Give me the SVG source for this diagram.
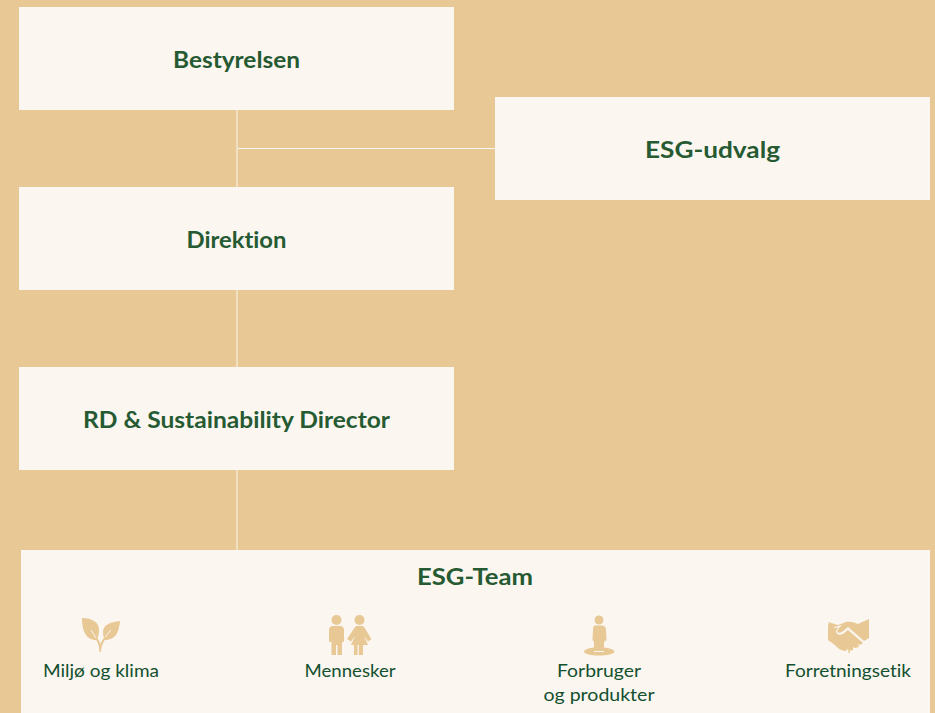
<svg xmlns="http://www.w3.org/2000/svg" width="935" height="713" viewBox="0 0 935 713">
<style>
.box{fill:#fbf6ef}
.h{font-family:"Lato","Liberation Sans",sans-serif;font-weight:700;font-size:23px;fill:#255a32;text-anchor:middle;font-variant-ligatures:none}
.s{font-family:"Lato","Liberation Sans",sans-serif;font-weight:400;font-size:17px;fill:#12502f;text-anchor:middle;font-variant-ligatures:none}
.ic{fill:#e8c894}
.vein{fill:none;stroke:#fbf6ef;stroke-width:1}
.c{stroke:#fbf6ef;stroke-width:1;fill:none}
</style>
<rect width="935" height="713" fill="#e8c894"/>
<g id="connectors">
<path class="c" d="M237 110V187M237.500 148.500H495M237 290V367M237 470V550"/>
</g>
<g id="bestyrelsen"><rect class="box" x="19" y="7" width="435" height="103"/><text class="h" x="236.500" y="68" textLength="127" lengthAdjust="spacingAndGlyphs">Bestyrelsen</text></g>
<g id="esg-udvalg"><rect class="box" x="495" y="97" width="435" height="103"/><text class="h" x="712.500" y="158" textLength="135" lengthAdjust="spacingAndGlyphs">ESG-udvalg</text></g>
<g id="direktion"><rect class="box" x="19" y="187" width="435" height="103"/><text class="h" x="236.500" y="248" textLength="100" lengthAdjust="spacingAndGlyphs">Direktion</text></g>
<g id="rd-director"><rect class="box" x="19" y="367" width="435" height="103"/><text class="h" x="236.500" y="428" textLength="307" lengthAdjust="spacingAndGlyphs">RD &amp; Sustainability Director</text></g>
<g id="esg-team">
<rect class="box" x="21" y="550" width="909" height="163"/>
<text class="h" x="475" y="585" textLength="116" lengthAdjust="spacingAndGlyphs">ESG-Team</text>
<g id="miljo">
<path class="ic" d="M82 618C90 618 99 621 99 630C99 635 98 638 96 640C88 640 82 634 82 618Z"/>
<path class="ic" d="M120 621C112 622 103 624 103 632C103 636 104 638 105 640C114 640 119 634 120 621Z"/>
<path class="ic" d="M99.500 652C99.500 645 97 640 92 634L93 633C97 637 100 641 100.500 645C101 641 104 637 110 632L111 633C105 638 101 645 101 652Z"/>
<path class="vein" d="M91 630L96 638M111 630L105 637"/>
<text class="s" x="101" y="677" textLength="116" lengthAdjust="spacingAndGlyphs">Miljø og klima</text>
</g>
<g id="mennesker">
<circle class="ic" cx="336.500" cy="620" r="5"/>
<path class="ic" d="M333 626H340C343 626 344 628 344 630V641C344 642 343 642 342 642V655H337.500V645H336V655H331.500V642C330 642 329 642 329 641V630C329 628 330 626 333 626Z"/>
<circle class="ic" cx="359.500" cy="620" r="5"/>
<path class="ic" d="M356 626H363C365 628 369 635 371.500 639L368 641.500L364 636L368 645H363V655H358.800V645H357.500V655H354V645H351L355 636L351 641.500L347 639C350 635 354 628 356 626Z"/>
<text class="s" x="350" y="677" textLength="91" lengthAdjust="spacingAndGlyphs">Mennesker</text>
</g>
<g id="forbruger">
<circle class="ic" cx="599" cy="620" r="4.500"/>
<path class="ic" d="M595 625.500H603C605 626 606 628 606 630L606.500 640L604 642V651H594V642L592.500 640L593 630C593 628 593 626 595 625.500Z"/>
<path class="ic" d="M594 647.500V652H604V647.500C610 648 614.500 650 614.500 651.500C614.500 654 607 655.500 599 655.500C591 655.500 584 654 584 651.500C584 650 588 648 594 647.500Z"/>
<text class="s" x="599" y="677" textLength="84" lengthAdjust="spacingAndGlyphs">Forbruger</text>
<text class="s" x="599" y="701" textLength="111" lengthAdjust="spacingAndGlyphs">og produkter</text>
</g>
<g id="forretningsetik">
<path class="ic" d="M828 622L838 625L846 622C851 621 855 623 858 624L869 619V638L864 641L856 634L848 627L842 632C839 634 836 632 838 629L842 625L834 627L831 628Z"/>
<path class="ic" d="M828 624L835 628L838 627L836 631C836 634 839 636 843 634L848 630L863 643L860 645L858 644L859 647L855 648L853 647L853 650L849 651L847 649L846 651C842 651 837 648 835 645L828 640Z"/>
<circle class="ic" cx="849" cy="652" r="1"/>
<text class="s" x="848" y="677" textLength="126" lengthAdjust="spacingAndGlyphs">Forretningsetik</text>
</g>
</g>
</svg>
